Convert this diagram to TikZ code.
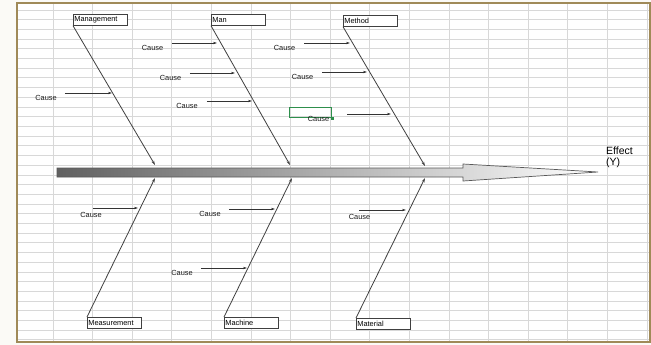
\documentclass[tikz,border=0pt]{standalone}
\usepackage{fontspec}
\setmainfont{Liberation Sans}
\usetikzlibrary{arrows.meta}
\definecolor{framegold}{HTML}{A08A58}
\definecolor{gridgray}{HTML}{D8D8D8}
\definecolor{selgreen}{HTML}{2E8F4C}
\definecolor{pagebg}{HTML}{FBFAF6}

\begin{document}
\begin{tikzpicture}[x=1pt, y=-1pt, >=Stealth,
  cat/.style={draw=black!75, line width=0.7pt, fill=white, anchor=north west, minimum width=54pt, minimum height=11pt,
    text width=52pt, inner xsep=1pt, inner ysep=0pt, align=left, font=\fontsize{7.4}{8}\selectfont},
  cause/.style={inner sep=0pt, font=\fontsize{7.4}{8}\selectfont, text=black!90},
  bone/.style={draw=black!75, line width=0.8pt, -{Stealth[length=4.5pt,width=2.8pt]}},
  ca/.style={draw=black!80, line width=0.7pt, -{Stealth[length=4pt,width=2.4pt]}},
  sel/.style={draw=selgreen, line width=1.3pt, anchor=north west, minimum width=42pt, minimum height=10pt, inner sep=0pt}]
  \useasboundingbox (0,0) rectangle (651,345);
  % sheet background and grid
  \fill[pagebg] (0,0) rectangle (651,345);
  \fill[white] (17,3) rectangle (650,342);
  \foreach \k in {0,...,34}
    \draw[gridgray, line width=0.8pt] (17,{10+9.7*\k}) -- (650,{10+9.7*\k});
  \foreach \k in {0,...,14}
    \draw[gridgray, line width=1pt] ({53+39.6*\k},3) -- ({53+39.6*\k},342);
  \draw[gridgray, line width=1pt] (647,3) -- (647,342);
  \draw[framegold, line width=1.8pt] (17,3) rectangle (650,342);

  % spine
  \path[draw=black!65, line width=0.7pt, left color=black!62, right color=white]
    (57,168) -- (463,168) -- (463,164) -- (598,172) -- (463,181) -- (463,177) -- (57,177) -- cycle;
  \node[anchor=west, align=left, inner sep=0pt, font=\fontsize{10.5}{11.5}\selectfont] (effect) at (606,157.5) {Effect\\(Y)};

  % categories
  \node[cat] (mgmt)     at (73,14)  {Management};
  \node[cat] (man)      at (211,14) {Man};
  \node[cat] (method)   at (343,15) {Method};
  \node[cat] (meas)     at (87,317) {Measurement};
  \node[cat] (machine)  at (224,317) {Machine};
  \node[cat] (material) at (356,318) {Material};

  \coordinate (j1) at (155,165);
  \coordinate (j2) at (290,165);
  \coordinate (j3) at (425,166);
  \coordinate (j4) at (155,178);
  \coordinate (j5) at (292,178);
  \coordinate (j6) at (425,178);
  \draw[bone] (mgmt.south west) -- (j1);
  \draw[bone] (man.south west) -- (j2);
  \draw[bone] (method.south west) -- (j3);
  \draw[bone] (meas.north west) -- (j4);
  \draw[bone] (machine.north west) -- (j5);
  \draw[bone] (material.north west) -- (j6);

  % selected cell
  \node[sel] (cell) at (289,107) {};
  \fill[selgreen] ([shift={(-1.5,-1.5)}]cell.south east) rectangle ++(3,3);

  % causes
  \node[cause] (c1)  at (46,98)    {Cause};
  \node[cause] (c2)  at (152.5,48) {Cause};
  \node[cause] (c3)  at (170.5,78) {Cause};
  \node[cause] (c4)  at (187,106)  {Cause};
  \node[cause] (c5)  at (284.5,48) {Cause};
  \node[cause] (c6)  at (302.5,77) {Cause};
  \node[cause] (c7)  at (318.5,119) {Cause};
  \node[cause] (c8)  at (91,215)   {Cause};
  \node[cause] (c9)  at (210,214)  {Cause};
  \node[cause] (c10) at (182,273)  {Cause};
  \node[cause] (c11) at (359.5,217) {Cause};

  \coordinate (e1)  at (112,93);
  \coordinate (e2)  at (217,43);
  \coordinate (e3)  at (235,73);
  \coordinate (e4)  at (252,101);
  \coordinate (e5)  at (350,43);
  \coordinate (e6)  at (367,72);
  \coordinate (e7)  at (391,114);
  \coordinate (e8)  at (138,208);
  \coordinate (e9)  at (275,209);
  \coordinate (e10) at (247,268);
  \coordinate (e11) at (406,210);
  \draw[ca] ([shift={(8,-5)}]c1.east) -- (e1);
  \draw[ca] ([shift={(9,-5)}]c2.east) -- (e2);
  \draw[ca] ([shift={(8.5,-5)}]c3.east) -- (e3);
  \draw[ca] ([shift={(9,-5)}]c4.east) -- (e4);
  \draw[ca] ([shift={(9,-5)}]c5.east) -- (e5);
  \draw[ca] ([shift={(9,-5)}]c6.east) -- (e6);
  \draw[ca] ([shift={(18,-5)}]c7.east) -- (e7);
  \draw[ca] ([shift={(-9,-7)}]c8.east) -- (e8);
  \draw[ca] ([shift={(8,-5)}]c9.east) -- (e9);
  \draw[ca] ([shift={(8,-5)}]c10.east) -- (e10);
  \draw[ca] ([shift={(-11,-7)}]c11.east) -- (e11);
\end{tikzpicture}
\end{document}
